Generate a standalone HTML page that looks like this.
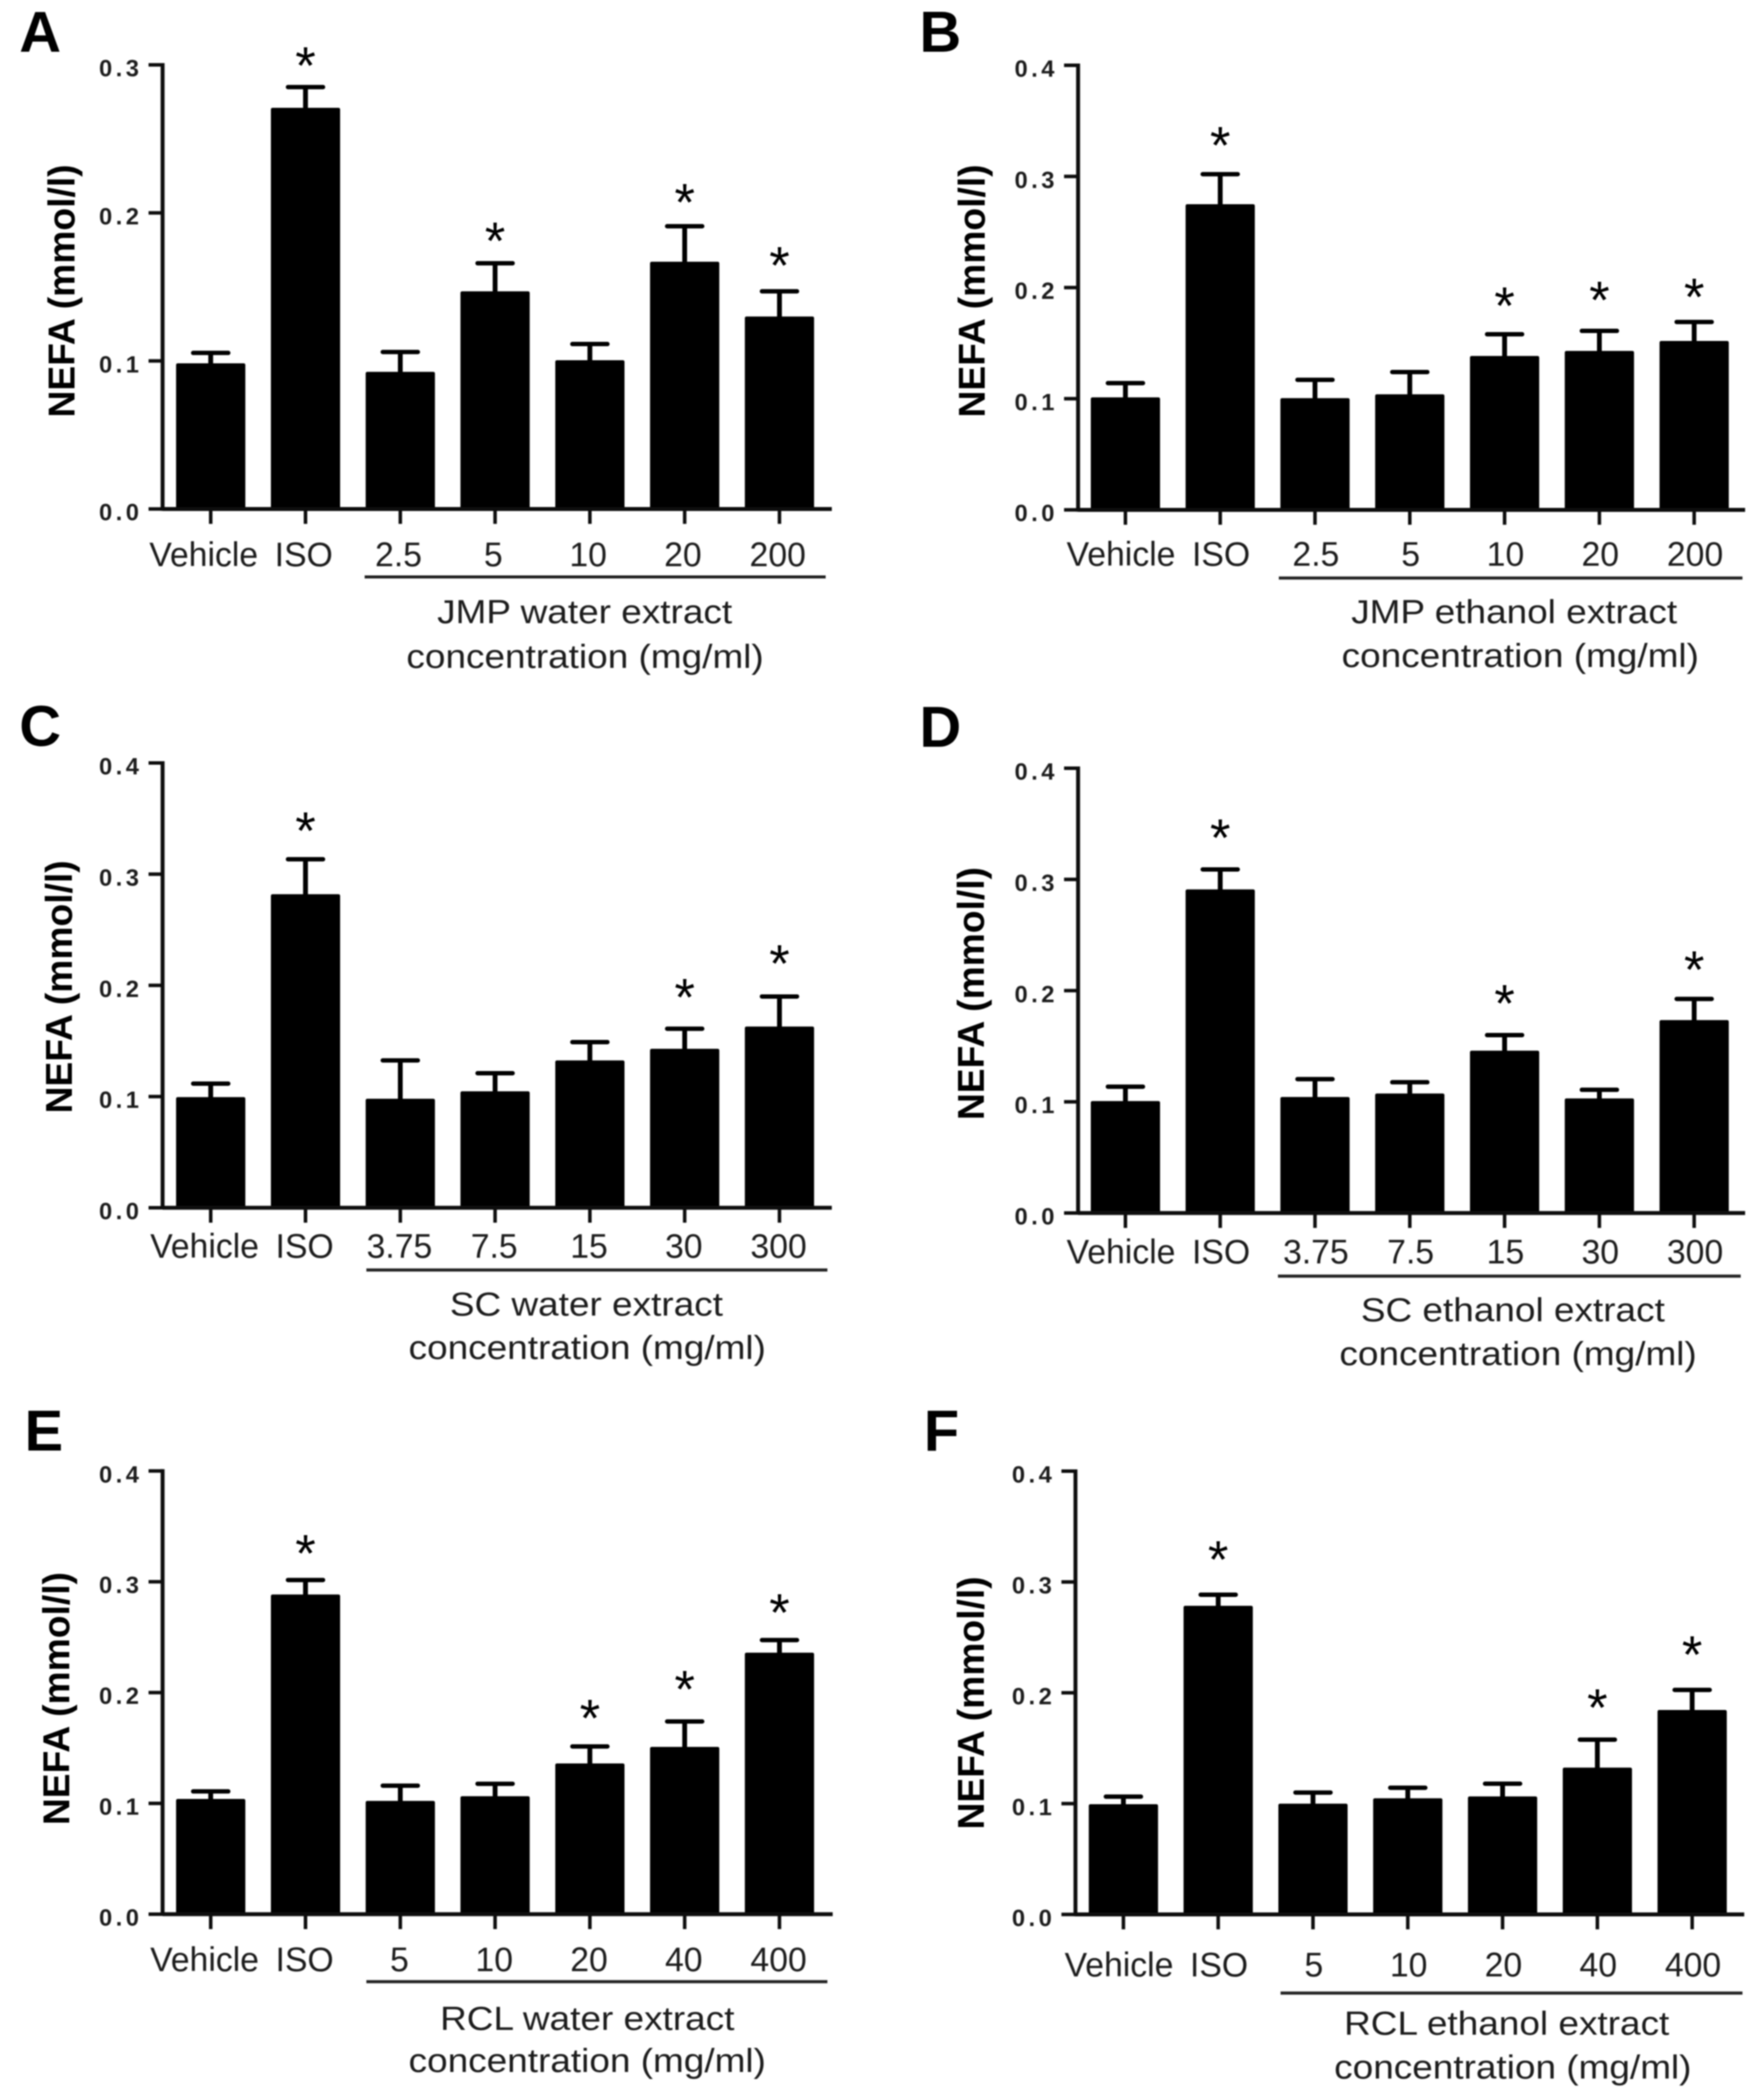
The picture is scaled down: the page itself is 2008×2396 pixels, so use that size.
<!DOCTYPE html>
<html lang="en">
<head>
<meta charset="utf-8">
<title>NEFA bar charts</title>
<style>
html,body{margin:0;padding:0;background:#fff;}
svg{display:block;}
text{font-family:"Liberation Sans",sans-serif;fill:#1c1c1c;}
.letter{font-size:66px;font-weight:bold;fill:#000;}
.ytitle{font-size:42.5px;font-weight:bold;fill:#000;text-anchor:middle;}
.sub{font-size:38px;text-anchor:middle;}
.tick{font-size:38.5px;text-anchor:middle;}
.ytick{font-size:27px;font-weight:bold;text-anchor:end;letter-spacing:4px;}
.star{font-size:60px;text-anchor:middle;fill:#000;}
</style>
</head>
<body>
<svg id="figure" xmlns="http://www.w3.org/2000/svg" width="2008" height="2396" viewBox="0 0 2008 2396">
<defs><filter id="soft" x="-2%" y="-2%" width="104%" height="104%"><feGaussianBlur stdDeviation="0.9"/></filter></defs>
<rect width="2008" height="2396" fill="#fff"/>
<g filter="url(#soft)">
  <g id="panel-a">
    <text class="letter" x="22" y="59">A</text>
    <text class="ytitle" transform="translate(85,332) rotate(-90)">NEFA (mmol/l)</text>
    <line x1="416" x2="942" y1="658.3" y2="658.3" stroke="#222" stroke-width="3.5"/>
    <text class="sub" transform="translate(667,711) scale(1.11,1)">JMP water extract</text>
    <text class="sub" transform="translate(667.5,762) scale(1.11,1)">concentration (mg/ml)</text>
  </g>
  <g id="panel-b">
    <text class="letter" x="1049" y="59">B</text>
    <text class="ytitle" transform="translate(1123.5,332) rotate(-90)">NEFA (mmol/l)</text>
    <line x1="1459" x2="1988" y1="659.5" y2="659.5" stroke="#222" stroke-width="3.5"/>
    <text class="sub" transform="translate(1727.5,711) scale(1.11,1)">JMP ethanol extract</text>
    <text class="sub" transform="translate(1734.5,761) scale(1.11,1)">concentration (mg/ml)</text>
  </g>
  <g id="panel-c">
    <text class="letter" x="22" y="851">C</text>
    <text class="ytitle" transform="translate(82,1126) rotate(-90)">NEFA (mmol/l)</text>
    <line x1="418" x2="944" y1="1449" y2="1449" stroke="#222" stroke-width="3.5"/>
    <text class="sub" transform="translate(669,1501) scale(1.11,1)">SC water extract</text>
    <text class="sub" transform="translate(670,1550.6) scale(1.11,1)">concentration (mg/ml)</text>
  </g>
  <g id="panel-d">
    <text class="letter" x="1049" y="852">D</text>
    <text class="ytitle" transform="translate(1122.4,1133.6) rotate(-90)">NEFA (mmol/l)</text>
    <line x1="1458" x2="1986" y1="1456" y2="1456" stroke="#222" stroke-width="3.5"/>
    <text class="sub" transform="translate(1726,1507.5) scale(1.11,1)">SC ethanol extract</text>
    <text class="sub" transform="translate(1732,1557.7) scale(1.11,1)">concentration (mg/ml)</text>
  </g>
  <g id="panel-e">
    <text class="letter" x="28" y="1655">E</text>
    <text class="ytitle" transform="translate(79,1938) rotate(-90)">NEFA (mmol/l)</text>
    <line x1="418" x2="944" y1="2261" y2="2261" stroke="#222" stroke-width="3.5"/>
    <text class="sub" transform="translate(670,2316) scale(1.11,1)">RCL water extract</text>
    <text class="sub" transform="translate(670,2364) scale(1.11,1)">concentration (mg/ml)</text>
  </g>
  <g id="panel-f">
    <text class="letter" x="1054" y="1655">F</text>
    <text class="ytitle" transform="translate(1122.4,1943) rotate(-90)">NEFA (mmol/l)</text>
    <line x1="1461" x2="1988" y1="2274" y2="2274" stroke="#222" stroke-width="3.5"/>
    <text class="sub" transform="translate(1719,2321.4) scale(1.11,1)">RCL ethanol extract</text>
    <text class="sub" transform="translate(1726,2371.7) scale(1.11,1)">concentration (mg/ml)</text>
  </g>
</g>
</svg>
<script>
// Tick labels
const ticksShort = [0, 0.1, 0.2, 0.3];
const ticksTall = [0, 0.1, 0.2, 0.3, 0.4];

// Panel A
const categoriesA = ['Vehicle', 'ISO', '2.5', '5', '10', '20', '200'];
const meansA = [0.0984, 0.271, 0.0926, 0.147, 0.1005, 0.167, 0.130];
const upperA = [0.1054, 0.285, 0.106, 0.166, 0.1114, 0.191, 0.147];
const starsA = [null, 0.305, null, 0.1865, null, 0.2128, 0.170];

// Panel B
const categoriesB = ['Vehicle', 'ISO', '2.5', '5', '10', '20', '200'];
const meansB = [0.1012, 0.275, 0.1005, 0.104, 0.1385, 0.143, 0.152];
const upperB = [0.114, 0.302, 0.117, 0.124, 0.158, 0.161, 0.169];
const starsB = [null, 0.3355, null, null, 0.191, 0.196, 0.199];

// Panel C
const categoriesC = ['Vehicle', 'ISO', '3.75', '7.5', '15', '30', '300'];
const meansC = [0.0995, 0.282, 0.098, 0.1047, 0.1325, 0.143, 0.163];
const upperC = [0.1116, 0.3134, 0.1325, 0.121, 0.149, 0.161, 0.19];
const starsC = [null, 0.3464, null, null, null, 0.1966, 0.2268];

// Panel D
const categoriesD = ['Vehicle', 'ISO', '3.75', '7.5', '15', '30', '300'];
const meansD = [0.1007, 0.291, 0.1043, 0.1075, 0.146, 0.1031, 0.1735];
const upperD = [0.1136, 0.309, 0.1204, 0.1176, 0.16, 0.1108, 0.1925];
const starsD = [null, 0.345, null, null, 0.196, null, 0.2264];

// Panel E
const categoriesE = ['Vehicle', 'ISO', '5', '10', '20', '40', '400'];
const meansE = [0.104, 0.2885, 0.1022, 0.1065, 0.136, 0.151, 0.236];
const upperE = [0.1108, 0.3016, 0.116, 0.1177, 0.1514, 0.1739, 0.2474];
const starsE = [null, 0.333, null, null, 0.1843, 0.2104, 0.2795];

// Panel F
const categoriesF = ['Vehicle', 'ISO', '5', '10', '20', '40', '400'];
const meansF = [0.0995, 0.2785, 0.1, 0.1048, 0.1065, 0.1325, 0.1845];
const upperF = [0.1063, 0.2885, 0.11, 0.1143, 0.118, 0.1577, 0.2026];
const starsF = [null, 0.3278, null, null, null, 0.1938, 0.242];

const NS = 'http://www.w3.org/2000/svg';

function mk(parent, tag, attrs, txt) {
  const node = document.createElementNS(NS, tag);
  for (const k in attrs) node.setAttribute(k, attrs[k]);
  if (txt !== undefined) node.textContent = txt;
  parent.appendChild(node);
  return node;
}

function drawPanel(id, cfg, categories, means, upper, stars, ticks) {
  const root = document.getElementById(id);
  const yMax = ticks[ticks.length - 1];
  const yScale = v => cfg.base - v * (cfg.base - cfg.top) / yMax;
  const xScale = i => cfg.first + i * 108.15;
  const barW = 79, capW = 40;

  categories.forEach((cat, i) => {
    const cx = xScale(i);
    const stem = mk(root, 'line', {x1: cx, x2: cx, y1: yScale(means[i]) + 2, y2: yScale(upper[i]), stroke: '#000', 'stroke-width': 5.5});
    
    
    const cap = mk(root, 'line', {x1: cx - capW / 2, x2: cx + capW / 2, y1: yScale(upper[i]), y2: yScale(upper[i]), stroke: '#000', 'stroke-width': 5, 'stroke-linecap': 'round'});
    
    
    const bar = mk(root, 'rect', {x: cx - barW / 2, y: yScale(means[i]), width: barW, height: cfg.base - yScale(means[i]), rx: 2, fill: '#000'});
    
    
    const tk = mk(root, 'line', {x1: cx, x2: cx, y1: cfg.base, y2: cfg.base + 17, stroke: '#111', 'stroke-width': 4});
    
    
    const shift = (cat === 'Vehicle' ? -8 : -2) + cfg.nudge;
    const label = mk(root, 'text', {class: 'tick', x: cx + shift, y: cfg.labelY}, cat);
    
    
    if (stars[i] !== null) {
      const star = mk(root, 'text', {class: 'star', x: cx, y: yScale(stars[i]) + 30}, '*');
      
      
    }
  });

  ticks.forEach(t => {
    const y = yScale(t);
    const tk = mk(root, 'line', {x1: cfg.axis - 16, x2: cfg.axis, y1: y, y2: y, stroke: '#111', 'stroke-width': 4});
    
    
    const label = mk(root, 'text', {class: 'ytick', x: cfg.axis - 23, y: y + 13}, t.toFixed(1));
    
    
  });

  const yAxis = mk(root, 'line', {x1: cfg.axis, x2: cfg.axis, y1: cfg.top - 2, y2: cfg.base + 2, stroke: '#111', 'stroke-width': 4.5});
  
  
  const xAxis = mk(root, 'line', {x1: cfg.axis, x2: cfg.end, y1: cfg.base, y2: cfg.base, stroke: '#111', 'stroke-width': 4.5});
  
  
}

drawPanel('panel-a', {axis: 185.5, end: 949, base: 580.7, top: 74, first: 240.4, labelY: 646, nudge: 0}, categoriesA, meansA, upperA, starsA, ticksShort);
drawPanel('panel-b', {axis: 1230, end: 1991, base: 581.7, top: 74.5, first: 1284, labelY: 645.5, nudge: 3}, categoriesB, meansB, upperB, starsB, ticksTall);
drawPanel('panel-c', {axis: 185.5, end: 949, base: 1378, top: 870.5, first: 240.4, labelY: 1435, nudge: 1}, categoriesC, meansC, upperC, starsC, ticksTall);
drawPanel('panel-d', {axis: 1230, end: 1991, base: 1384, top: 876.5, first: 1284, labelY: 1441.5, nudge: 3}, categoriesD, meansD, upperD, starsD, ticksTall);
drawPanel('panel-e', {axis: 185.5, end: 950, base: 2184, top: 1678.3, first: 240.4, labelY: 2249, nudge: 1}, categoriesE, meansE, upperE, starsE, ticksTall);
drawPanel('panel-f', {axis: 1227, end: 1990, base: 2184.3, top: 1678.5, first: 1281.7, labelY: 2255, nudge: 3}, categoriesF, meansF, upperF, starsF, ticksTall);
</script>
</body>
</html>
